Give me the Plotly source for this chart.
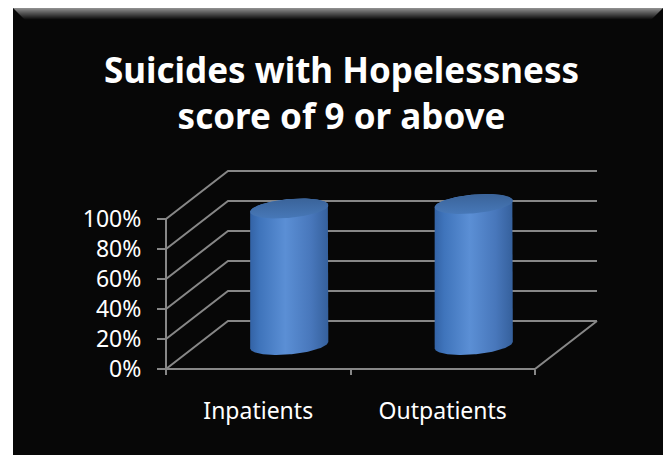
import numpy as np
import plotly.graph_objects as go

# ---- chart data -------------------------------------------------------------
categories = ["Inpatients", "Outpatients"]
values = [0.91, 0.94]                      # share of suicides, 0..1
tick_values = [0, 0.2, 0.4, 0.6, 0.8, 1.0]
tick_labels = ["0%", "20%", "40%", "60%", "80%", "100%"]
title_lines = ["Suicides with Hopelessness", "score of 9 or above"]

# ---- layout geometry --------------------------------------------------------
W_FIG, H_FIG = 666, 455
M_L, M_R, M_T, M_B = 160, 60, 160, 80
PLOT_W = W_FIG - M_L - M_R
PLOT_H = H_FIG - M_T - M_B

PX_CAT = 184.5          # pixels per category slot in the front plane
PX_VAL = 150.0          # pixels for 100% in the front plane
X0 = -6 / PX_CAT
X1 = X0 + PLOT_W / PX_CAT
Y0 = -6 / PX_VAL
Y1 = Y0 + PLOT_H / PX_VAL

# oblique offset of the back wall (one full depth), in data units
DEPTH_X = 62 / PX_CAT
DEPTH_Y = 48 / PX_VAL

GRID = "#878787"
FONT = "Noto Sans"
n = len(categories)

fig = go.Figure()

# ---- walls, floor and front axis --------------------------------------------
gx, gy = [], []
for v in tick_values:
    gx += [0, DEPTH_X, n + DEPTH_X, None]
    gy += [v, v + DEPTH_Y, v + DEPTH_Y, None]
gx += [0, n, n + DEPTH_X, None]
gy += [0, 0, DEPTH_Y, None]
gx += [0, 0]
gy += [0, tick_values[-1]]
fig.add_trace(go.Scatter(x=gx, y=gy, mode="lines",
                         line=dict(color=GRID, width=2),
                         hoverinfo="skip", showlegend=False))

# ---- cylinders --------------------------------------------------------------
RX = 0.2        # horizontal radius (x units)
RD = 0.208      # radius along depth (fraction of the depth)
DEPTH_POS = 0.5
th0 = np.arctan2(DEPTH_X * RD, RX)


def ring(cx, cy, th):
    return (cx + RX * np.cos(th) + DEPTH_X * RD * np.sin(th),
            cy + DEPTH_Y * RD * np.sin(th))


body_scale = [[0.0, "#3363a6"], [0.12, "#3f74bb"], [0.45, "#5b8fd5"],
              [0.78, "#4877bb"], [1.0, "#35609c"]]
cap_scale = [[0.0, "#4778b8"], [1.0, "#3a6399"]]

for i, (cat, v) in enumerate(zip(categories, values)):
    cx = i + 0.5 + DEPTH_X * DEPTH_POS
    cy0 = DEPTH_Y * DEPTH_POS
    cy1 = cy0 + v
    front = np.linspace(th0 + np.pi, th0 + 2 * np.pi, 80)
    back = np.linspace(th0, th0 + np.pi, 80)
    bx, by = ring(cx, cy0, front)
    tx, ty = ring(cx, cy1, back)
    fig.add_trace(go.Scatter(
        x=np.concatenate([bx, tx, bx[:1]]), y=np.concatenate([by, ty, by[:1]]),
        mode="lines", fill="toself", line=dict(width=0),
        fillgradient=dict(type="horizontal", colorscale=body_scale),
        hoverinfo="skip", showlegend=False, name=cat))
    full = np.linspace(0, 2 * np.pi, 161)
    ex, ey = ring(cx, cy1, full)
    fig.add_trace(go.Scatter(
        x=ex, y=ey, mode="lines", fill="toself", line=dict(width=0),
        fillgradient=dict(type="vertical", colorscale=cap_scale),
        hoverinfo="skip", showlegend=False, name=cat))

# ---- background panel with bevelled top edge --------------------------------
def px_x(p):
    return (p - M_L) / PLOT_W


def px_y(p):
    return ((H_FIG - M_B) - p) / PLOT_H


shapes = [dict(type="rect", xref="paper", yref="paper", layer="below",
               x0=px_x(13), x1=px_x(663), y0=px_y(455), y1=px_y(8),
               fillcolor="#070707", line=dict(width=0))]
bevel = 12
for k in range(bevel):
    g = int(140 - k * 130 / (bevel - 1))
    col = f"rgb({g},{g},{g})"
    ya, yb = 8 + k, 9 + k
    path = (f"M {px_x(13 + k)} {px_y(ya)} L {px_x(663 - k)} {px_y(ya)} "
            f"L {px_x(662 - k)} {px_y(yb)} L {px_x(14 + k)} {px_y(yb)} Z")
    shapes.append(dict(type="path", xref="paper", yref="paper", layer="below",
                       path=path, fillcolor=col, line=dict(width=0)))

fig.update_layout(
    width=W_FIG, height=H_FIG, autosize=False,
    margin=dict(l=M_L, r=M_R, t=M_T, b=M_B, pad=0),
    paper_bgcolor="white", plot_bgcolor="rgba(0,0,0,0)",
    shapes=shapes,
    showlegend=False,
    xaxis=dict(range=[X0, X1], anchor="free",
               position=(0 - Y0) / (Y1 - Y0),
               tickmode="array", tickvals=[i + 0.5 for i in range(n)],
               ticktext=categories, ticks="", ticklabelstandoff=26,
               tickfont=dict(family=FONT, size=23, color="white"),
               showgrid=False, zeroline=False, showline=False,
               minor=dict(tickmode="array", tickvals=list(range(n + 1)),
                          ticks="outside", ticklen=5, tickwidth=2,
                          tickcolor=GRID, showgrid=False),
               fixedrange=True),
    yaxis=dict(range=[Y0, Y1], anchor="free",
               position=(0 - X0) / (X1 - X0),
               tickmode="array", tickvals=tick_values, ticktext=tick_labels,
               ticks="outside", ticklen=9, tickwidth=2, tickcolor=GRID,
               ticklabelstandoff=11,
               tickfont=dict(family=FONT, size=23, color="white"),
               showgrid=False, zeroline=False, showline=False,
               fixedrange=True),
    annotations=[dict(text="<br>".join(title_lines), xref="paper",
                      yref="paper", x=px_x(341), y=px_y(93),
                      xanchor="center", yanchor="middle", showarrow=False,
                      font=dict(family=FONT, size=35, color="white",
                                weight="bold"))],
)

fig.write_html("out.html")
